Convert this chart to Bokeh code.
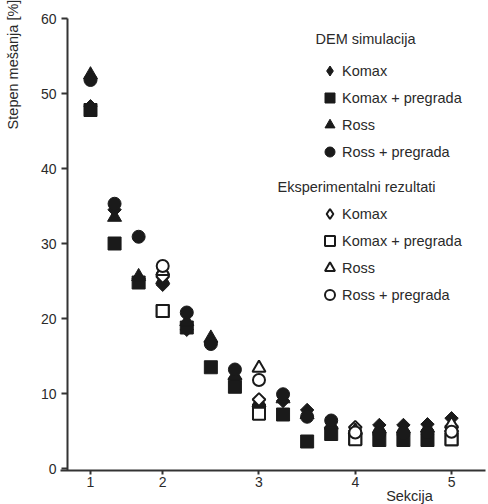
import numpy as np
from bokeh.plotting import figure
from bokeh.models import Legend, LegendItem, Label, FixedTicker, Range1d
from bokeh.embed import file_html
from bokeh.resources import INLINE
from bokeh.core.properties import value

# positions of measurement points along the mixer (16 elements), sections 1..5
positions = list(range(16))
tick_positions = [0, 3, 7, 11, 15]
tick_labels = ["1", "2", "3", "4", "5"]
y_ticks = [0, 10, 20, 30, 40, 50, 60]

# DEM simulation
dem_komax = [48.3, 34.5, 25.3, 24.5, 18.5, 16.8, 12.0, 8.5, 9.0, 7.8, 5.5, 5.0, 5.8, 5.8, 5.9, 6.7]
dem_komax_pregrada = [47.8, 30.0, 24.8, 21.0, 18.8, 13.5, 10.9, 7.4, 7.2, 3.6, 4.6, 4.0, 3.8, 3.8, 3.8, 3.9]
dem_ross = [52.5, 33.5, 25.6, 25.2, 19.6, 17.4, 12.4, 8.8, 9.3, 7.2, 5.8, 5.2, 5.3, 5.3, 5.4, 5.5]
dem_ross_pregrada = [51.8, 35.3, 30.9, 25.8, 20.8, 16.6, 13.2, 8.3, 9.9, 6.9, 6.4, 4.8, 4.7, 4.7, 4.8, 4.9]

# experimental results (end of sections 2..5)
exp_positions = [3, 7, 11, 15]
exp_komax = [25.6, 9.2, 5.5, 5.6]
exp_komax_pregrada = [21.0, 7.3, 3.9, 3.9]
exp_ross = [26.3, 13.4, 5.0, 5.9]
exp_ross_pregrada = [27.0, 11.8, 4.8, 4.9]

series_names = ["Komax", "Komax + pregrada", "Ross", "Ross + pregrada"]

FONT = "Liberation Sans"
INK = "#1a1a1a"
TXT = "#2a2a2a"
AX = "#333333"

# the frame covers the whole canvas; axes are pinned at fixed data locations
X0, X1 = -3.739, 16.535
Y0, Y1 = -4.8, 62.4
p = figure(width=488, height=504, output_backend="svg", toolbar_location=None,
           x_range=Range1d(X0, X1), y_range=Range1d(Y0, Y1),
           min_border_left=0, min_border_right=0, min_border_top=0, min_border_bottom=0)
p.outline_line_color = None
p.xgrid.grid_line_color = None
p.ygrid.grid_line_color = None
p.background_fill_color = "white"
p.border_fill_color = "white"

for ax in (p.xaxis[0], p.yaxis[0]):
    ax.axis_line_width = 2
    ax.axis_line_color = AX
    ax.major_tick_line_width = 2
    ax.major_tick_line_color = AX
    ax.major_tick_in = 0
    ax.minor_tick_line_color = None
    ax.major_label_text_font = FONT
    ax.major_label_text_font_size = "14px"
    ax.major_label_text_color = TXT

xax = p.xaxis[0]
xax.fixed_location = -0.267
xax.bounds = (-1.246, 16.41)
xax.ticker = FixedTicker(ticks=tick_positions)
xax.major_label_overrides = dict(zip(tick_positions, tick_labels))
xax.major_tick_out = 4
xax.major_label_standoff = 2

yax = p.yaxis[0]
yax.fixed_location = -0.956
yax.bounds = (-0.267, 60)
yax.ticker = FixedTicker(ticks=y_ticks)
yax.major_tick_out = 6
yax.major_label_standoff = 5

# DEM (filled) - diamonds drawn as rotated squares
r_dk = p.scatter(positions, dem_komax, marker="square", angle=np.pi / 4, size=9.5, fill_color=INK, line_color=INK)
r_dkp = p.scatter(positions, dem_komax_pregrada, marker="square", size=13, fill_color=INK, line_color=INK)
r_dr = p.scatter(positions, dem_ross, marker="triangle", size=14, fill_color=INK, line_color=INK)
r_drp = p.scatter(positions, dem_ross_pregrada, marker="circle", size=13, fill_color=INK, line_color=INK)

# experimental (open)
r_ek = p.scatter(exp_positions, exp_komax, marker="square", angle=np.pi / 4, size=9, fill_color="white", line_color=INK, line_width=2)
r_ekp = p.scatter(exp_positions, exp_komax_pregrada, marker="square", size=12, fill_color="white", line_color=INK, line_width=2)
r_er = p.scatter(exp_positions, exp_ross, marker="triangle", size=13, fill_color="white", line_color=INK, line_width=2)
r_erp = p.scatter(exp_positions, exp_ross_pregrada, marker="circle", size=12, fill_color="white", line_color=INK, line_width=2)

# legend keys for the diamond series (zero-size on the plot, legend draws its own size)
k_dk = p.scatter(positions, dem_komax, marker="diamond", size=0, fill_color=INK, line_color=INK)
k_ek = p.scatter(exp_positions, exp_komax, marker="diamond", size=0, fill_color="white", line_color=INK, line_width=2)

def make_legend(renderers, loc):
    return Legend(items=[LegendItem(label=value(n), renderers=[r]) for n, r in zip(series_names, renderers)],
                  location=loc, orientation="vertical", padding=0, margin=0, spacing=2,
                  glyph_width=25, glyph_height=25, label_height=25, label_standoff=0,
                  border_line_color=None, background_fill_alpha=0,
                  label_text_font=FONT, label_text_font_size="14.5px", label_text_color=TXT)

p.add_layout(make_legend([k_dk, r_dkp, r_dr, r_drp], (317, 340)))
p.add_layout(make_legend([k_ek, r_ekp, r_er, r_erp], (317, 197)))

def add_text(x, y, text, angle=0.0):
    p.add_layout(Label(x=x, y=y, x_units="screen", y_units="screen", text=text, angle=angle,
                       text_font=FONT, text_font_size="14.5px", text_color=TXT,
                       text_align="center", text_baseline="middle"))

add_text(365, 466, "DEM simulacija")
add_text(356, 318, "Eksperimentalni rezultati")
add_text(409, 9, "Sekcija")
add_text(12, 440, "Stepen mešanja [%]", angle=np.pi / 2)

open("out.html", "w").write(file_html(p, INLINE))
